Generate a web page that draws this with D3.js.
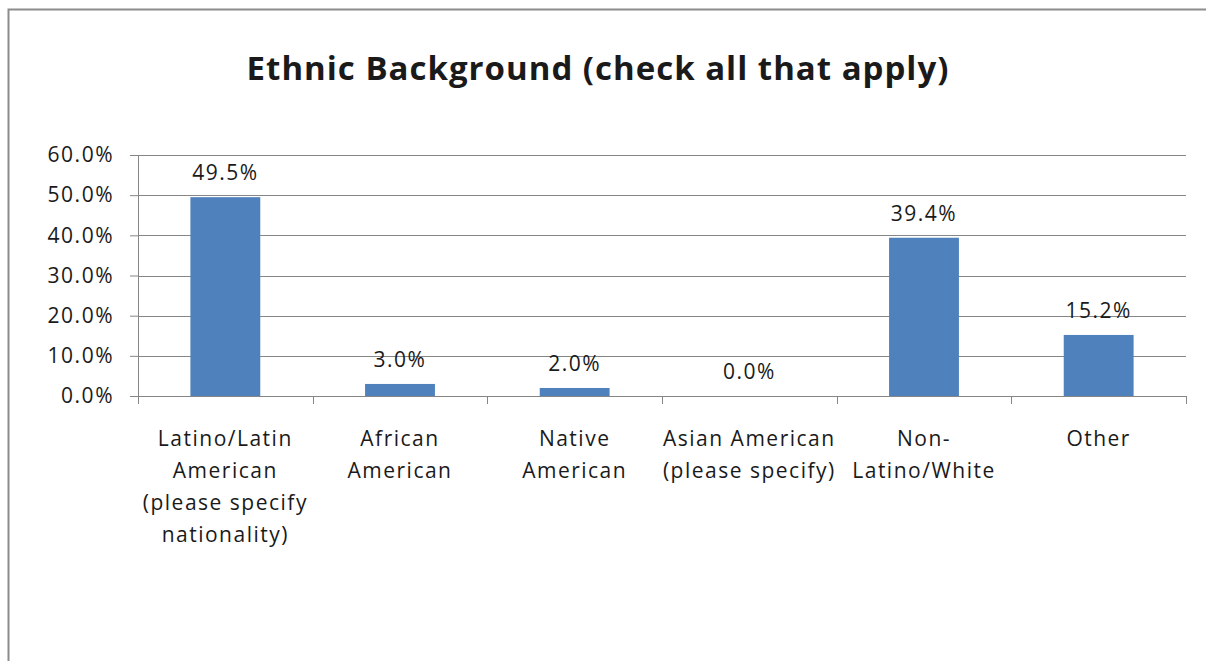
<!DOCTYPE html>
<html lang="en">
<head>
<meta charset="utf-8">
<title>Ethnic Background</title>
<script src="https://d3js.org/d3.v7.min.js"></script>
<style>
  body { margin: 0; background: #fff; }
  text { font-family: "Open Sans", sans-serif; fill: #1a1a1a; }
  .title { font-weight: bold; font-size: 33px; letter-spacing: 1px; }
  .axis text { font-size: 21px; letter-spacing: 1.5px; }
  .label-bar { font-size: 21px; letter-spacing: 1.5px; }
</style>
</head>
<body>
<div id="chart"></div>
<script>
// data
var categories = [
  ["Latino/Latin", "American", "(please specify", "nationality)"],
  ["African", "American"],
  ["Native", "American"],
  ["Asian American", "(please specify)"],
  ["Non-", "Latino/White"],
  ["Other"]
];
var values = [49.5, 3.0, 2.0, 0.0, 39.4, 15.2];
var yTicks = [0, 10, 20, 30, 40, 50, 60];

var W = 1206, H = 661;
var m = {top: 155, right: 20, bottom: 265, left: 138};

var svg = d3.select("#chart").append("svg")
  .attr("width", W).attr("height", H);

// chart border (extends past the window on right/bottom)
svg.append("rect")
  .attr("x", 8.5).attr("y", 9.5)
  .attr("width", W + 20).attr("height", H + 20)
  .style("fill", "none").style("stroke", "#8c8c8c").style("stroke-width", 2);

svg.append("text")
  .attr("class", "title")
  .attr("x", 598).attr("y", 80)
  .attr("text-anchor", "middle")
  .text("Ethnic Background (check all that apply)");

var x = d3.scaleBand()
  .domain(d3.range(categories.length))
  .range([m.left, 1186])
  .paddingInner(0.6).paddingOuter(0.3);

var xEdges = d3.scaleLinear().domain([0, categories.length]).range([m.left, 1186]);

var y = d3.scaleLinear().domain([0, 60]).range([396, m.top]);

// gridlines + y axis
var gy = svg.append("g").attr("class", "axis")
  .attr("transform", "translate(" + m.left + ",0)")
  .call(d3.axisLeft(y).tickValues(yTicks).tickSize(8).tickPadding(16)
        .tickFormat(d => d.toFixed(1) + "%"));
gy.select(".domain").attr("stroke", "#868686");
gy.selectAll(".tick line").attr("stroke", "#868686");

svg.append("g").selectAll("line")
  .data(yTicks.filter(d => d > 0))
  .join("line")
  .attr("x1", m.left).attr("x2", 1186)
  .attr("y1", d => Math.round(y(d)) + 0.5).attr("y2", d => Math.round(y(d)) + 0.5)
  .attr("stroke", "#868686");

// bars
svg.append("g").selectAll("rect")
  .data(values)
  .join("rect")
  .attr("x", (d, i) => x(i))
  .attr("width", x.bandwidth())
  .attr("y", d => y(d))
  .attr("height", d => y(0) - y(d))
  .style("fill", "#4f81bd");

// x axis line and ticks at category edges
svg.append("line")
  .attr("x1", m.left).attr("x2", 1186)
  .attr("y1", 396.5).attr("y2", 396.5)
  .attr("stroke", "#868686");
svg.append("g").selectAll("line")
  .data(d3.range(categories.length + 1))
  .join("line")
  .attr("x1", d => Math.round(xEdges(d)) + 0.5).attr("x2", d => Math.round(xEdges(d)) + 0.5)
  .attr("y1", 396).attr("y2", 404)
  .attr("stroke", "#868686");

// category labels
var cl = svg.append("g").attr("class", "axis").selectAll("text")
  .data(categories)
  .join("text")
  .attr("text-anchor", "middle")
  .attr("x", (d, i) => x(i) + x.bandwidth() / 2)
  .attr("y", 446);
cl.selectAll("tspan")
  .data(d => d)
  .join("tspan")
  .attr("x", function () { return this.parentNode.getAttribute("x"); })
  .attr("dy", (d, i) => i === 0 ? 0 : 32)
  .text(d => d);

// value labels
svg.append("g").selectAll("text")
  .data(values)
  .join("text")
  .attr("class", "label-bar")
  .attr("text-anchor", "middle")
  .attr("x", (d, i) => x(i) + x.bandwidth() / 2)
  .attr("y", d => y(d) - 17)
  .text(d => d.toFixed(1) + "%");
</script>
</body>
</html>
